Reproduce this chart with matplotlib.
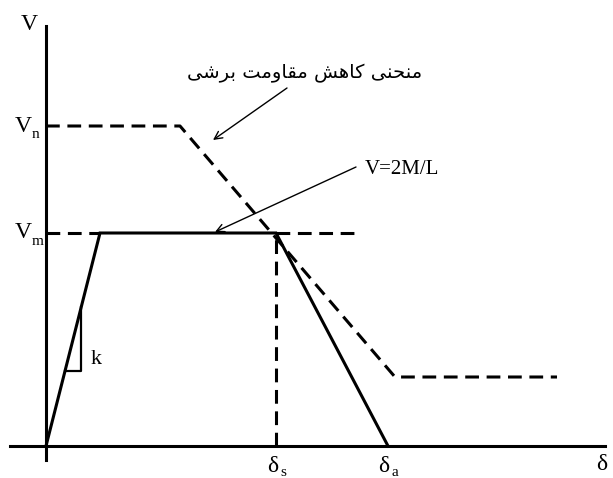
import matplotlib.pyplot as plt

# solid backbone V-delta curve
solid_x = [0, 5.4, 23.0, 34.2]
solid_y = [0, 21.3, 21.3, 0]

# dashed shear strength degradation curve
shear_x = [0, 13.4, 34.9, 51.1]
shear_y = [32.0, 32.0, 6.9, 6.9]

# dashed V=2M/L level pieces and delta_s drop
vm_left_x = [0, 5.4]
vm_right_x = [23.0, 30.9]
V_m = 21.3
V_n = 32.0
delta_s = 23.0
delta_a = 34.2
delta_end = 55.6

# stiffness triangle
k_x = [3.5, 3.5, 1.9]
k_y = [13.9, 7.5, 7.5]

persian_label = "منحنی کاهش مقاومت برشی"
moment_label = "V=2M/L"

# arabic presentation forms: isolated, final, initial, medial
FORMS = {
    "ا": ("\uFE8D", "\uFE8E", None, None),
    "ب": ("\uFE8F", "\uFE90", "\uFE91", "\uFE92"),
    "ت": ("\uFE95", "\uFE96", "\uFE97", "\uFE98"),
    "ح": ("\uFEA1", "\uFEA2", "\uFEA3", "\uFEA4"),
    "ر": ("\uFEAD", "\uFEAE", None, None),
    "ش": ("\uFEB5", "\uFEB6", "\uFEB7", "\uFEB8"),
    "ق": ("\uFED5", "\uFED6", "\uFED7", "\uFED8"),
    "م": ("\uFEE1", "\uFEE2", "\uFEE3", "\uFEE4"),
    "ن": ("\uFEE5", "\uFEE6", "\uFEE7", "\uFEE8"),
    "ه": ("\uFEE9", "\uFEEA", "\uFEEB", "\uFEEC"),
    "و": ("\uFEED", "\uFEEE", None, None),
    "ی": ("\uFBFC", "\uFBFD", "\uFBFE", "\uFBFF"),
    "ک": ("\uFB8E", "\uFB8F", "\uFB90", "\uFB91"),
}


def shape(text):
    out = []
    for i, ch in enumerate(text):
        if ch not in FORMS:
            out.append(ch)
            continue
        prev = text[i - 1] if i > 0 else " "
        nxt = text[i + 1] if i + 1 < len(text) else " "
        join_prev = prev in FORMS and FORMS[prev][2] is not None
        join_next = nxt in FORMS and FORMS[ch][2] is not None
        iso, fin, ini, med = FORMS[ch]
        if join_prev and join_next:
            out.append(med)
        elif join_prev:
            out.append(fin)
        elif join_next:
            out.append(ini)
        else:
            out.append(iso)
    return "".join(out)[::-1]


fig = plt.figure(figsize=(6.13, 4.78), dpi=100)
ax = fig.add_axes([0, 0, 1, 1])
ax.set_xlim(-4.6, 56.7)
ax.set_ylim(-3.2, 44.6)
ax.axis('off')

serif = 'Liberation Serif'
lw = 2.2
dash = (4.5, 2.5)

# axes
ax.plot([-3.6, delta_end + 0.3], [0, 0], color='black', lw=lw)
ax.plot([0, 0], [-1.4, 42.0], color='black', lw=lw)

ax.plot(solid_x, solid_y, color='black', lw=lw, solid_joinstyle='miter')
ax.plot(shear_x, shear_y, color='black', lw=lw, dashes=dash)
ax.plot(vm_left_x, [V_m, V_m], color='black', lw=lw, dashes=dash)
ax.plot(vm_right_x, [V_m, V_m], color='black', lw=lw, dashes=dash)
ax.plot([delta_s, delta_s], [0, V_m], color='black', lw=lw, dashes=dash)
ax.plot(k_x, k_y, color='black', lw=1.6)
ax.text(k_x[0] + 1.0, 8.6, 'k', fontsize=16, family=serif, va='center', ha='left')

# axis labels
ax.text(-0.8, 42.2, 'V', fontsize=17, family=serif, ha='right', va='center')
ax.text(-1.4, V_n, 'V', fontsize=17, family=serif, ha='right', va='center')
ax.text(-1.4, V_n - 0.9, 'n', fontsize=11, family=serif, ha='left', va='center',
        transform=ax.transData)
ax.text(-1.4, V_m, 'V', fontsize=17, family=serif, ha='right', va='center')
ax.text(-1.4, V_m - 0.9, 'm', fontsize=11, family=serif, ha='left', va='center')

ax.text(delta_s - 0.3, -2.1, 'δ', fontsize=17, family=serif, ha='center', va='center')
ax.text(delta_s + 0.4, -2.6, 's', fontsize=11, family=serif, ha='left', va='center')
ax.text(delta_a - 0.4, -2.1, 'δ', fontsize=17, family=serif, ha='center', va='center')
ax.text(delta_a + 0.3, -2.6, 'a', fontsize=11, family=serif, ha='left', va='center')
ax.text(delta_end, -1.9, 'δ', fontsize=17, family=serif, ha='center', va='center')

# annotations
arrow = dict(arrowstyle='->', color='black', lw=1.0, shrinkA=0, shrinkB=0,
             mutation_scale=14)
ax.annotate('', xy=(16.7, 30.6), xytext=(24.1, 35.8), arrowprops=arrow)
ax.text(25.9, 37.3, shape(persian_label), fontsize=14, family='DejaVu Sans',
        ha='center', va='center')
ax.annotate('', xy=(16.9, 21.4), xytext=(31.0, 27.9), arrowprops=arrow)
ax.text(31.9, 27.65, moment_label, fontsize=15, family=serif, ha='left', va='center')

fig.savefig('out.png', dpi=100)
